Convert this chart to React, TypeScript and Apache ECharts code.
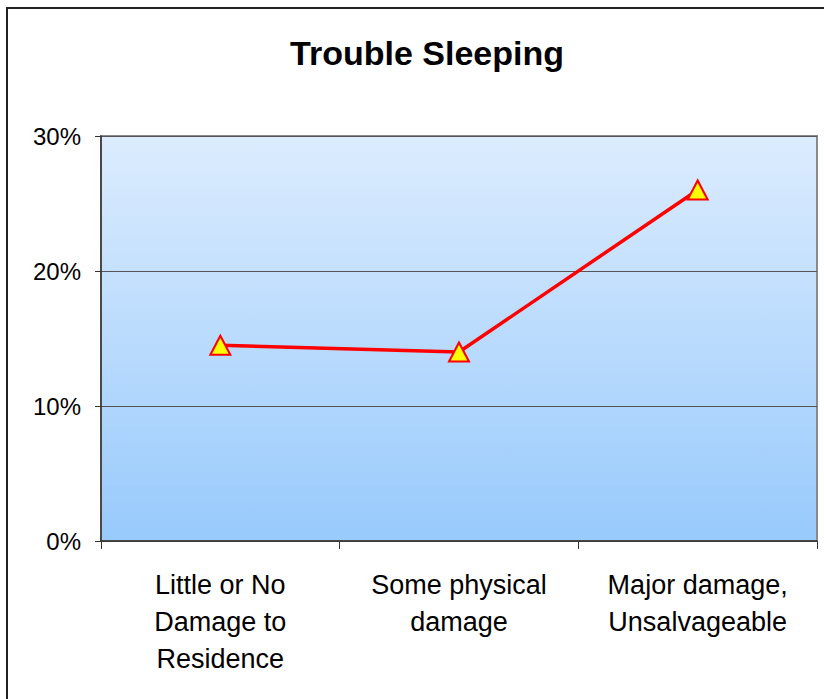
import React, { useEffect, useRef } from "react";
import * as echarts from "echarts";

const categories = [
  "Little or No\nDamage to\nResidence",
  "Some physical\ndamage",
  "Major damage,\nUnsalvageable",
];
const troubleSleeping = [14.5, 14.0, 26.0];
const yTicks = { min: 0, max: 30, interval: 10 };
const titleText = "Trouble Sleeping";

const FONT = "'Liberation Sans', Arial, Helvetica, sans-serif";

export default function App() {
  const ref = useRef<HTMLDivElement>(null);
  useEffect(() => {
    if (!ref.current) return;
    const chart = echarts.init(ref.current, undefined, { renderer: "svg" });
    chart.setOption({
      animation: false,
      backgroundColor: "#ffffff",
      title: {
        text: titleText,
        left: 422,
        textAlign: "center",
        top: 31,
        textStyle: { fontFamily: FONT, fontSize: 34, fontWeight: "bold", color: "#000" },
      },
      graphic: [
        {
          type: "rect",
          shape: { x: 7, y: 8, width: 900, height: 800 },
          style: { fill: "none", stroke: "#222", lineWidth: 2 },
          silent: true,
          z: -1,
        },
      ],
      grid: {
        left: 101,
        right: 7,
        top: 136,
        bottom: 158,
        show: true,
        borderColor: "#8a8a8a",
        borderWidth: 2,
        backgroundColor: {
          type: "linear",
          x: 0,
          y: 0,
          x2: 0,
          y2: 1,
          colorStops: [
            { offset: 0, color: "#dcecfe" },
            { offset: 1, color: "#98cafc" },
          ],
        },
      },
      xAxis: {
        type: "category",
        data: categories,
        boundaryGap: true,
        axisLine: { show: true, lineStyle: { color: "#333", width: 1.5 } },
        axisTick: { show: true, length: 8, lineStyle: { color: "#333" } },
        axisLabel: {
          fontFamily: FONT,
          fontSize: 27,
          color: "#000",
          lineHeight: 37,
          margin: 25,
          interval: 0,
        },
        splitLine: { show: false },
      },
      yAxis: {
        type: "value",
        min: yTicks.min,
        max: yTicks.max,
        interval: yTicks.interval,
        axisLine: { show: true, lineStyle: { color: "#333", width: 1.5 } },
        axisTick: { show: true, length: 6, lineStyle: { color: "#333" } },
        axisLabel: {
          formatter: "{value}%",
          fontFamily: FONT,
          fontSize: 24,
          color: "#000",
          margin: 20,
        },
        splitLine: { show: true, lineStyle: { color: "#555", width: 1 } },
      },
      series: [
        {
          type: "line",
          data: troubleSleeping,
          symbol: "triangle",
          symbolSize: [20, 19],
          lineStyle: { color: "#ff0000", width: 3.5 },
          itemStyle: { color: "#ffff00", borderColor: "#ff0000", borderWidth: 2 },
          z: 3,
        },
      ],
    });
    return () => chart.dispose();
  }, []);
  return (
    <div
      ref={ref}
      style={{ position: "absolute", left: 0, top: 0, width: 824, height: 699 }}
    />
  );
}
